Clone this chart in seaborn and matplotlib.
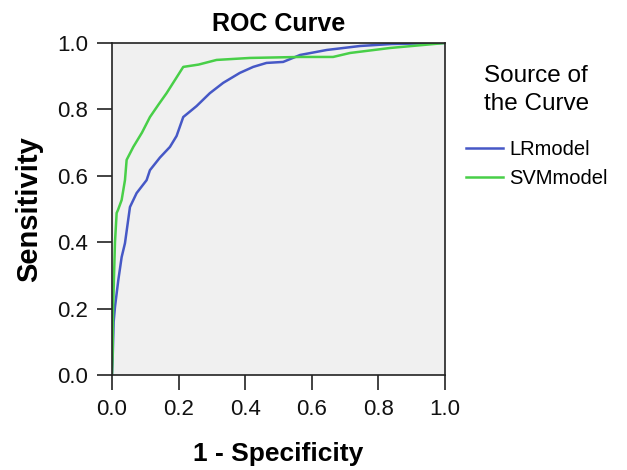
import pandas as pd
import numpy as np
import matplotlib
matplotlib.use('Agg')
import matplotlib.pyplot as plt
import seaborn as sns

# points
lr_fpr = [0.0, 0.002, 0.005, 0.009, 0.019, 0.029, 0.039, 0.054, 0.074, 0.104, 0.114, 0.144,
          0.174, 0.194, 0.214, 0.254, 0.294, 0.334, 0.384, 0.424, 0.464, 0.514, 0.565,
          0.645, 0.745, 0.84, 1.0]
lr_tpr = [0.0, 0.05, 0.16, 0.205, 0.286, 0.355, 0.397, 0.506, 0.548, 0.587, 0.617, 0.655,
          0.687, 0.72, 0.777, 0.81, 0.849, 0.88, 0.91, 0.928, 0.94, 0.943, 0.964,
          0.979, 0.991, 0.997, 1.0]

svm_fpr = [0.0, 0.002, 0.003, 0.009, 0.014, 0.018, 0.029, 0.039, 0.044, 0.064, 0.09, 0.114,
           0.14, 0.164, 0.19, 0.214, 0.26, 0.314, 0.414, 0.565, 0.664, 0.715, 0.835,
           0.934, 1.0]
svm_tpr = [0.0, 0.066, 0.187, 0.4, 0.488, 0.497, 0.527, 0.587, 0.648, 0.687, 0.73, 0.777,
           0.815, 0.849, 0.89, 0.928, 0.935, 0.949, 0.955, 0.958, 0.958, 0.97, 0.985,
           0.994, 1.0]

models = ['LRmodel', 'SVMmodel']
colors = ['#4658c6', '#48cf48']

df = pd.concat([
    pd.DataFrame({'fpr': lr_fpr, 'tpr': lr_tpr, 'model': 'LRmodel'}),
    pd.DataFrame({'fpr': svm_fpr, 'tpr': svm_tpr, 'model': 'SVMmodel'}),
])

plt.rcParams['font.family'] = ['Liberation Sans', 'DejaVu Sans']

fig = plt.figure(figsize=(6.27, 4.70), dpi=100)
ax = fig.add_axes([0.1786, 0.2021, 0.5311, 0.7064])
ax.set_facecolor('#f0f0f0')

sns.lineplot(data=df, x='fpr', y='tpr', hue='model', hue_order=models, palette=colors,
             sort=False, estimator=None, ax=ax, linewidth=1.8, legend=False)

ticks = np.arange(0, 1.01, 0.2)
ax.set_xlim(0, 1)
ax.set_ylim(0, 1)
ax.set_xticks(ticks)
ax.set_yticks(ticks)
ax.set_xticklabels(['%.1f' % v for v in ticks])
ax.set_yticklabels(['%.1f' % v for v in ticks])
ax.tick_params(axis='both', direction='out', length=11, width=1.2, labelsize=16,
               pad=6, colors='#222222', labelcolor='#111111')
for s in ax.spines.values():
    s.set_color('#222222')
    s.set_linewidth(1.2)

ax.set_title('ROC Curve', fontsize=18, fontweight='bold', pad=9)
ax.set_xlabel('1 - Specificity', fontsize=19, fontweight='bold', labelpad=16)
ax.set_ylabel('Sensitivity', fontsize=21, fontweight='bold', labelpad=10)

# legend outside, to the right
handles = [plt.Line2D([], [], color=c, linewidth=1.8) for c in colors]
leg = fig.legend(handles, models, title='Source of\nthe Curve', loc='upper left',
                 bbox_to_anchor=(0.743, 0.862), frameon=False, fontsize=14.5,
                 title_fontsize=17.5, handlelength=1.85, handletextpad=0.3,
                 labelspacing=0.5, borderpad=0, borderaxespad=0)
leg.get_title().set_linespacing(1.35)
leg._legend_box.align = 'center'
leg._legend_box.sep = 18

fig.savefig('out.png', dpi=100)
